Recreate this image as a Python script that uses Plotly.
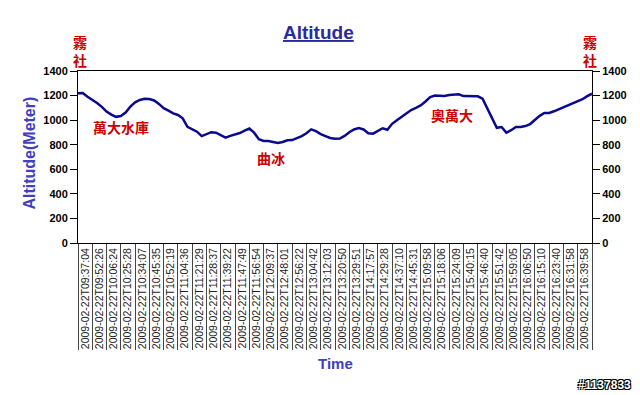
import plotly.graph_objects as go

# category tick labels (36 shown labels)
time_labels = [
    "2009-02-22T09:37:04", "2009-02-22T09:52:26", "2009-02-22T10:06:24", "2009-02-22T10:25:28",
    "2009-02-22T10:34:07", "2009-02-22T10:45:35", "2009-02-22T10:52:19", "2009-02-22T11:04:36",
    "2009-02-22T11:21:29", "2009-02-22T11:28:37", "2009-02-22T11:39:22", "2009-02-22T11:47:49",
    "2009-02-22T11:56:54", "2009-02-22T12:09:37", "2009-02-22T12:48:01", "2009-02-22T12:56:22",
    "2009-02-22T13:04:42", "2009-02-22T13:12:03", "2009-02-22T13:20:50", "2009-02-22T13:29:51",
    "2009-02-22T14:17:57", "2009-02-22T14:29:28", "2009-02-22T14:37:10", "2009-02-22T14:45:31",
    "2009-02-22T15:09:58", "2009-02-22T15:18:06", "2009-02-22T15:24:09", "2009-02-22T15:40:15",
    "2009-02-22T15:46:40", "2009-02-22T15:51:42", "2009-02-22T15:59:05", "2009-02-22T16:06:50",
    "2009-02-22T16:15:10", "2009-02-22T16:23:40", "2009-02-22T16:31:58", "2009-02-22T16:39:58",
]

# altitude readings (m), three readings per labelled category
altitude = [
    1218, 1220, 1190, 1166, 1140, 1108, 1070, 1045, 1027, 1034,
    1062, 1110, 1145, 1164, 1174, 1172, 1160, 1132, 1097, 1078,
    1055, 1042, 1015, 945, 922, 906, 870, 885, 902, 898,
    875, 857, 872, 885, 895, 915, 932, 898, 845, 830,
    830, 822, 814, 822, 836, 838, 852, 870, 893, 925,
    910, 886, 870, 855, 849, 850, 872, 902, 924, 935,
    924, 893, 890, 910, 934, 922, 970, 1000, 1028, 1055,
    1082, 1100, 1120, 1152, 1188, 1200, 1200, 1197, 1204, 1210,
    1210, 1196, 1196, 1196, 1194, 1175, 1100, 1020, 938, 944,
    898, 918, 945, 945, 952, 968, 1005, 1035, 1058, 1058,
    1072, 1088, 1109, 1126, 1142, 1158, 1170, 1195, 1215,
]

y_ticks = [0, 200, 400, 600, 800, 1000, 1200, 1400]

# place names inside the plot (category position, altitude)
place_names = [
    ("萬大水庫", 3.0, 945),
    ("曲冰", 13.5, 695),
    ("奧萬大", 26.2, 1042),
]
# start/end place name above the plot
end_place = "霧<br>社"

per_cat = 3
xs = [i / per_cat for i in range(len(altitude))]
label_pos = [i + 0.5 for i in range(len(time_labels))]

fig = go.Figure()
fig.add_trace(go.Scatter(
    x=xs, y=altitude, mode="lines",
    line=dict(color="#0a0a8c", width=2.5),
    showlegend=False, hoverinfo="skip",
))
fig.add_trace(go.Scatter(
    x=[xs[0]], y=[altitude[0]], yaxis="y2", mode="lines",
    showlegend=False, hoverinfo="skip", opacity=0,
))

# the page body has an 8px default margin, so the figure is sized to fit the window
fig.update_layout(
    width=632, height=387,
    margin=dict(l=70, r=48, t=63, b=152, autoexpand=False),
    paper_bgcolor="white", plot_bgcolor="white",
    xaxis=dict(
        range=[0, len(time_labels)],
        tickmode="array", tickvals=label_pos, ticktext=time_labels,
        tickangle=-90, ticks="",
        tickfont=dict(family="Arial, Liberation Sans, sans-serif", size=10.5, color="#222222"),
        showline=True, linecolor="black", linewidth=1, mirror=True,
        showgrid=False, zeroline=False, automargin=False,
        minor=dict(tickmode="linear", tick0=0, dtick=1, ticks="outside",
                   ticklen=106, tickcolor="#444444", tickwidth=1, showgrid=False),
    ),
    yaxis=dict(
        range=[0, 1400], tickmode="array", tickvals=y_ticks,
        ticks="outside", ticklen=7, tickcolor="black",
        tickfont=dict(family="Arial, Liberation Sans, sans-serif", size=11, color="black", weight="bold"),
        showline=True, linecolor="black", linewidth=1,
        showgrid=False, zeroline=False, automargin=False,
    ),
    yaxis2=dict(
        range=[0, 1400], tickmode="array", tickvals=y_ticks,
        overlaying="y", side="right",
        ticks="outside", ticklen=7, tickcolor="black",
        tickfont=dict(family="Arial, Liberation Sans, sans-serif", size=11, color="black", weight="bold"),
        showline=True, linecolor="black", linewidth=1,
        showgrid=False, zeroline=False, automargin=False,
    ),
)

red_font = dict(family="Noto Sans CJK TC, Noto Sans CJK SC, sans-serif", size=14,
                color="#cc0000", weight="bold")

annotations = [
    dict(text="Altitude", xref="paper", yref="paper", x=(318 - 78) / 514, y=1 + (71 - 32) / 172,
         showarrow=False, xanchor="center", yanchor="middle",
         font=dict(family="Arial, Liberation Sans, sans-serif", size=19, color="#2a2aa0",
                   weight="bold", lineposition="under")),
    dict(text="Altitude(Meter)", xref="paper", yref="paper", x=(30 - 78) / 514, y=0.52,
         showarrow=False, textangle=-90, xanchor="center", yanchor="middle",
         font=dict(family="Arial, Liberation Sans, sans-serif", size=16, color="#4040c0", weight="bold")),
    dict(text="Time", xref="paper", yref="paper", x=(335 - 78) / 514, y=-(363 - 243) / 172,
         showarrow=False, xanchor="center", yanchor="middle",
         font=dict(family="Arial, Liberation Sans, sans-serif", size=15, color="#4040c0", weight="bold")),
    dict(text="#1137833", xref="paper", yref="paper", x=(633 - 78) / 514, y=-(385 - 243) / 172,
         showarrow=False, xanchor="right", yanchor="middle",
         font=dict(family="Arial, Liberation Sans, sans-serif", size=12, color="white", weight="bold",
                   shadow="-1px -1px 0 #000, 1px -1px 0 #000, -1px 1px 0 #000, 1px 1px 0 #000")),
    dict(text=end_place, xref="paper", yref="paper", x=(80 - 78) / 514, y=1 + (71 - 51) / 172,
         showarrow=False, xanchor="center", yanchor="middle", font=red_font),
    dict(text=end_place, xref="paper", yref="paper", x=(590 - 78) / 514, y=1 + (71 - 51) / 172,
         showarrow=False, xanchor="center", yanchor="middle", font=red_font),
]
for txt, xv, yv in place_names:
    annotations.append(dict(
        text=txt, x=xv, y=yv, xref="x", yref="y", showarrow=False,
        xanchor="center", yanchor="middle", font=red_font,
    ))
fig.update_layout(annotations=annotations)

fig.write_html("out.html")
